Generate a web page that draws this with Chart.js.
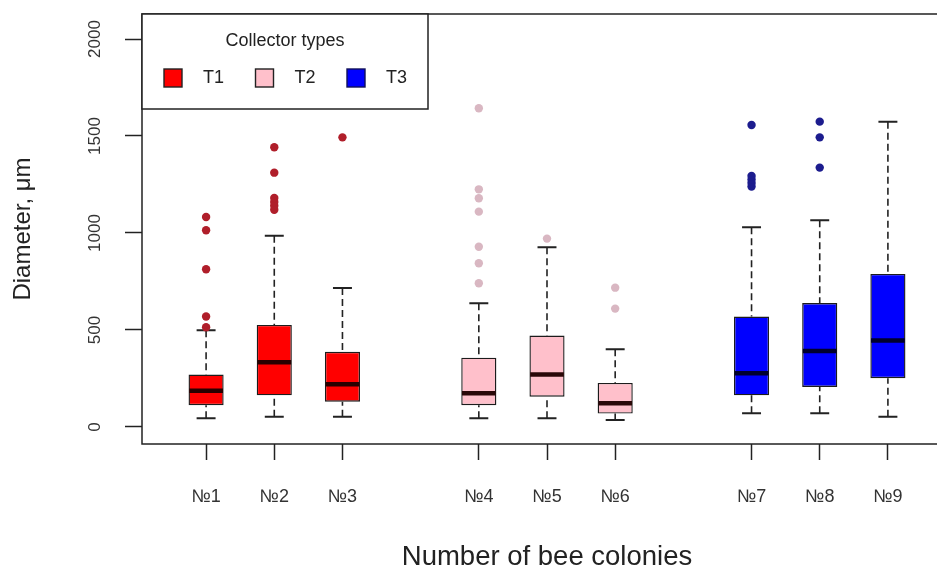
<!DOCTYPE html>
<html>
<head>
<meta charset="utf-8">
<script src="https://cdn.jsdelivr.net/npm/chart.js@4.4.1/dist/chart.umd.min.js"></script>
<style>
  html, body { margin: 0; padding: 0; background: #fff; overflow: hidden; width: 937px; height: 571px; }
  canvas { display: block; }
</style>
</head>
<body>
<canvas id="chart" width="970" height="571"></canvas>
<script>
// Colonies, where each box sits on the x axis, and which collector type it belongs to
const colonies = ['№1', '№2', '№3', '№4', '№5', '№6', '№7', '№8', '№9'];
const positions = [1, 2, 3, 5, 6, 7, 9, 10, 11];
const collectorTypes = ['T1', 'T2', 'T3'];
const colonyType = [0, 0, 0, 1, 1, 1, 2, 2, 2];

// Five-number summaries of pellet diameter (µm)
const whiskerLow  = [45, 53, 53, 45, 45, 36, 71, 71, 53];
const quartile1   = [112, 163, 130, 112, 156, 69, 163, 206, 251];
const medians     = [186, 333, 220, 174, 270, 122, 277, 392, 445];
const quartile3   = [270, 526, 387, 357, 471, 227, 569, 639, 789];
const whiskerHigh = [498, 986, 716, 638, 926, 400, 1029, 1065, 1574];

// Values beyond the whiskers
const outliers = [
  [514, 569, 813, 1014, 1082],
  [1120, 1140, 1160, 1180, 1311, 1442],
  [1493],
  [741, 844, 929, 1110, 1179, 1225, 1643],
  [971],
  [610, 718],
  [1240, 1258, 1276, 1294, 1557],
  [1337, 1493, 1574],
  []
];

const yTicks = [0, 500, 1000, 1500, 2000];

// Styling
const FONT = "'Liberation Sans', Arial, sans-serif";
const INK = '#222';
const fillColors = ['#FF0000', '#FFC0CB', '#0000FF'];
const outlierColors = ['#B01E2A', '#D9B7C2', '#1C1C8E'];
const medianColors = ['#2a0000', '#2a0808', '#00002e'];
const BOX_EDGE = '#1c1c1c';

const members = collectorTypes.map((_, k) =>
  colonies.map((_, i) => i).filter(i => colonyType[i] === k));

const boxDatasets = collectorTypes.map((t, k) => ({
  type: 'bar',
  label: t,
  data: members[k].map(i => ({ x: positions[i], y: [quartile1[i], quartile3[i]] })),
  backgroundColor: fillColors[k],
  borderColor: BOX_EDGE,
  borderWidth: 1.4,
  borderSkipped: false,
  grouped: false,
  categoryPercentage: 1,
  barPercentage: 0.515,
  order: 2
}));

const outlierDatasets = collectorTypes.map((t, k) => ({
  type: 'scatter',
  label: t + ' outliers',
  data: members[k].flatMap(i => outliers[i].map(v => ({ x: positions[i], y: v }))),
  backgroundColor: outlierColors[k],
  borderWidth: 0,
  pointRadius: 4.2,
  order: 1
}));

// Whiskers, medians, the plot frame and the legend box
const boxPlotParts = {
  id: 'boxPlotParts',
  beforeDatasetsDraw(chart) {
    const { ctx } = chart;
    const y = chart.scales.y;
    ctx.save();
    collectorTypes.forEach((_, k) => {
      chart.getDatasetMeta(k).data.forEach((bar, j) => {
        const i = members[k][j];
        const cx = bar.x;
        const cap = bar.width * 0.27;
        const yq1 = y.getPixelForValue(quartile1[i]);
        const yq3 = y.getPixelForValue(quartile3[i]);
        const ylo = y.getPixelForValue(whiskerLow[i]);
        const yhi = y.getPixelForValue(whiskerHigh[i]);
        ctx.strokeStyle = INK;
        ctx.lineWidth = 1.6;
        ctx.setLineDash([7, 4]);
        ctx.beginPath();
        ctx.moveTo(cx, yhi); ctx.lineTo(cx, yq3);
        ctx.moveTo(cx, ylo); ctx.lineTo(cx, yq1);
        ctx.stroke();
        ctx.setLineDash([]);
        ctx.lineWidth = 2;
        ctx.beginPath();
        ctx.moveTo(cx - cap, yhi); ctx.lineTo(cx + cap, yhi);
        ctx.moveTo(cx - cap, ylo); ctx.lineTo(cx + cap, ylo);
        ctx.stroke();
      });
    });
    ctx.restore();
  },
  afterDatasetsDraw(chart) {
    const { ctx } = chart;
    const y = chart.scales.y;
    ctx.save();
    collectorTypes.forEach((_, k) => {
      chart.getDatasetMeta(k).data.forEach((bar, j) => {
        const i = members[k][j];
        const ym = y.getPixelForValue(medians[i]);
        const half = bar.width / 2 - 0.7;
        ctx.strokeStyle = medianColors[k];
        ctx.lineWidth = 4.5;
        ctx.beginPath();
        ctx.moveTo(bar.x - half, ym);
        ctx.lineTo(bar.x + half, ym);
        ctx.stroke();
      });
    });
    ctx.restore();
  },
  afterDraw(chart) {
    const { ctx, chartArea: a } = chart;
    ctx.save();
    ctx.strokeStyle = INK;
    ctx.lineWidth = 1.5;
    ctx.strokeRect(a.left, a.top, a.right - a.left, a.bottom - a.top);

    // legend
    const lw = 286, lh = 95;
    ctx.fillStyle = '#fff';
    ctx.fillRect(a.left, a.top, lw, lh);
    ctx.strokeRect(a.left, a.top, lw, lh);
    ctx.fillStyle = INK;
    ctx.font = '18px ' + FONT;
    ctx.textAlign = 'center';
    ctx.textBaseline = 'middle';
    ctx.fillText('Collector types', a.left + lw / 2, a.top + 27);
    const rowY = a.top + 64;
    const sq = 18;
    collectorTypes.forEach((t, k) => {
      const x0 = a.left + 22 + k * 91.5;
      ctx.fillStyle = fillColors[k];
      ctx.fillRect(x0, rowY - sq / 2, sq, sq);
      ctx.strokeStyle = k === 2 ? '#10105a' : INK;
      ctx.lineWidth = 1.4;
      ctx.strokeRect(x0, rowY - sq / 2, sq, sq);
      ctx.fillStyle = INK;
      ctx.textAlign = 'left';
      ctx.fillText(t, x0 + 39, rowY);
    });
    ctx.restore();
  }
};

new Chart(document.getElementById('chart'), {
  type: 'bar',
  data: { datasets: [...boxDatasets, ...outlierDatasets] },
  options: {
    responsive: false,
    animation: false,
    events: [],
    layout: { padding: { top: 14, right: 18, bottom: 0, left: 0 } },
    plugins: { legend: { display: false }, tooltip: { enabled: false } },
    scales: {
      x: {
        type: 'linear',
        min: 0.06,
        max: 11.94,
        offset: false,
        border: { display: false },
        grid: { drawOnChartArea: false, offset: false, drawTicks: true, tickLength: 16, tickColor: INK, tickWidth: 1.5 },
        afterBuildTicks(scale) { scale.ticks = positions.map(v => ({ value: v })); },
        afterFit(scale) {
          scale.height = 127;
          scale.paddingLeft = 0; scale.paddingRight = 0;
        },
        ticks: {
          autoSkip: false,
          maxRotation: 0,
          padding: 26,
          color: '#333',
          font: { family: FONT, size: 18 },
          callback: (v, idx) => colonies[idx]
        },
        title: {
          display: true,
          text: 'Number of bee colonies',
          color: INK,
          font: { family: FONT, size: 27.5, lineHeight: 1 },
          padding: { top: 0, bottom: 0 }
        }
      },
      y: {
        type: 'linear',
        min: -88,
        max: 2129,
        border: { display: false },
        grid: { drawOnChartArea: false, drawTicks: true, tickLength: 17, tickColor: INK, tickWidth: 1.5 },
        afterBuildTicks(scale) { scale.ticks = yTicks.map(v => ({ value: v })); },
        afterFit(scale) {
          scale.width = 142;
          scale.paddingTop = 0; scale.paddingBottom = 0;
        },
        ticks: {
          minRotation: 90,
          maxRotation: 90,
          crossAlign: 'center',
          padding: 11,
          color: '#333',
          font: { family: FONT, size: 17 },
          callback: v => String(v)
        },
        title: {
          display: true,
          text: 'Diameter, μm',
          color: INK,
          font: { family: FONT, size: 24 },
          padding: { top: 9, bottom: 0 }
        }
      }
    }
  },
  plugins: [boxPlotParts]
});
</script>
</body>
</html>
